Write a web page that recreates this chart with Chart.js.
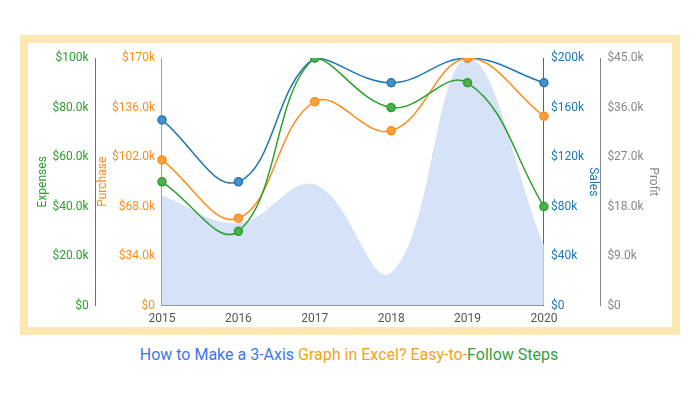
<!DOCTYPE html>
<html><head><meta charset="utf-8">
<script src="https://cdn.jsdelivr.net/npm/chart.js@4"></script>
<style>
body{margin:0;background:#fff;width:698px;height:400px;position:relative;font-family:Roboto,sans-serif}
#frame{position:absolute;left:20px;top:35px;width:644px;height:284px;border:8px solid #FDE7B0;background:#fff}
#title{position:absolute;left:0;width:698px;top:345px;text-align:center;font-size:16px}
</style></head><body>
<div id="frame"><canvas id="c" width="644" height="284"></canvas></div>
<div id="title"><span style="color:#3B78E7">How to Make a 3-Axis </span><span style="color:#F4A11E">Graph in Excel? Easy-to-</span><span style="color:#34A142">Follow Steps</span></div>
<script>
const years=['2015','2016','2017','2018','2019','2020'];
const expenses=[50000,30000,100000,80000,90000,40000];
const purchase=[100000,60000,140000,120000,170000,130000];
const sales=[150000,100000,200000,180000,200000,180000];
const profit=[20000,15000,22000,6000,45000,11000];
const GREEN='#2CA02C',ORANGE='#FF8C1A',BLUE='#1F77B4',GRAY='#888888';
function fmt(v,d){return v===0?'$0':(v>=100000&&d===0?'$'+(v/1000)+'k':'$'+(v/1000).toFixed(d)+'k');}
function ax(pos,col,max,step,title,fmtf){return {position:pos,min:0,max:max,grid:{display:false,drawTicks:true,tickColor:col,tickLength:5},border:{color:col,width:1},
 ticks:{color:col,stepSize:step,padding:2,font:{size:12,family:'Roboto'},callback:fmtf},title:{display:true,text:title,color:col,padding:{top:0,bottom:0},font:{size:12,family:'Roboto'}}};}
new Chart(document.getElementById('c'),{
 data:{labels:years,datasets:[
  {type:'line',label:'Expenses',data:expenses,yAxisID:'yE',borderColor:GREEN,backgroundColor:'#4CAF50',tension:0.4,pointRadius:4,borderWidth:1.5},
  {type:'line',label:'Purchase',data:purchase,yAxisID:'yP',borderColor:ORANGE,backgroundColor:'#FFA040',tension:0.4,pointRadius:4,borderWidth:1.5},
  {type:'line',label:'Sales',data:sales,yAxisID:'yS',borderColor:BLUE,backgroundColor:'#4A90C8',tension:0.4,pointRadius:4,borderWidth:1.5},
  {type:'line',label:'Profit',data:profit,yAxisID:'yR',borderColor:'rgba(0,0,0,0)',backgroundColor:'#D6E2F8',fill:'origin',tension:0.4,pointRadius:0,borderWidth:0}
 ]},
 options:{responsive:false,animation:false,layout:{padding:{top:15,left:8,right:12,bottom:0}},
  plugins:{legend:{display:false},tooltip:{enabled:false}},
  scales:{
   x:{offset:false,grid:{display:false,tickColor:GRAY,tickLength:5},border:{color:GRAY},ticks:{color:'#555',padding:1,font:{size:12,family:'Roboto'}}},
   yP:ax('left',ORANGE,170000,34000,'Purchase',v=>v===170000?'$170k':fmt(v,1)),
   yE:ax('left',GREEN,100000,20000,'Expenses',v=>v===100000?'$100k':fmt(v,1)),
   yS:ax('right',BLUE,200000,40000,'Sales',v=>fmt(v,0)),
   yR:ax('right',GRAY,45000,9000,'Profit',v=>fmt(v,1))
  }}
});
</script></body></html>
